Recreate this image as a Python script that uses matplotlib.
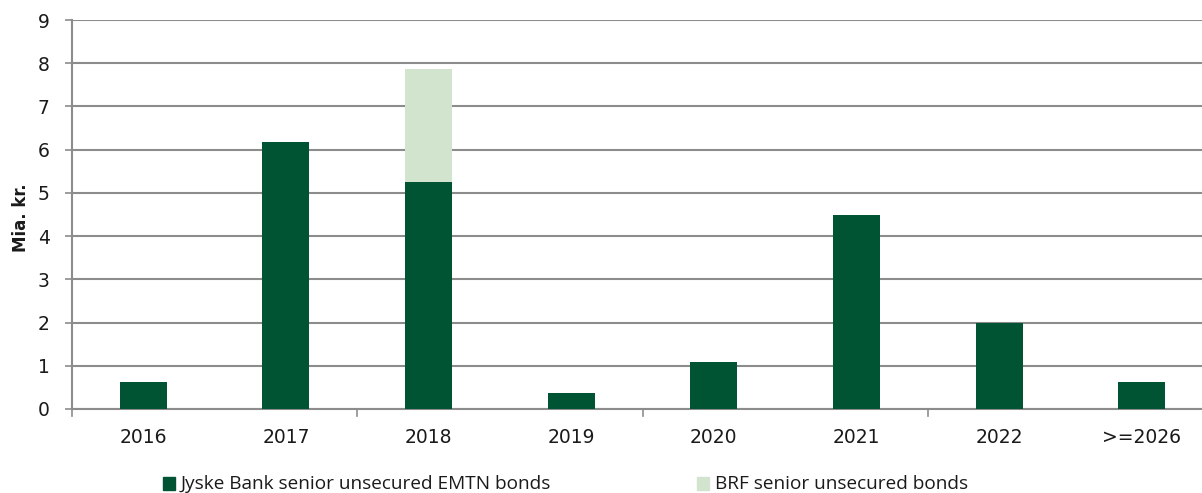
import matplotlib
matplotlib.use("Agg")
import matplotlib.pyplot as plt
from matplotlib.patches import Rectangle
import numpy as np

categories = ["2016", "2017", "2018", "2019", "2020", "2021", "2022", ">=2026"]
jyske = [0.63, 6.17, 5.26, 0.37, 1.08, 4.48, 1.98, 0.62]
brf = [0, 0, 2.60, 0, 0, 0, 0, 0]
series_names = ["Jyske Bank senior unsecured EMTN bonds", "BRF senior unsecured bonds"]
yticks = list(range(0, 10))

dark = "#005333"
light = "#D3E4CE"
grid_c = "#8C8C8C"
txt_c = "#1a1a1a"

fig = plt.figure(figsize=(12.02, 4.93), dpi=100)
ax = fig.add_axes([72/1202, 1-409/493, 1141/1202, 389/493])
x = np.arange(len(categories))
w = 0.33
ax.bar(x, jyske, width=w, color=dark, zorder=3)
ax.bar(x, brf, width=w, bottom=jyske, color=light, zorder=3)

ax.set_xlim(-0.5, len(categories) - 0.5)
ax.set_ylim(0, 9)
ax.set_yticks(yticks)
ax.set_yticklabels([str(v) for v in yticks], fontsize=13.5, color=txt_c, family="DejaVu Sans")
ax.yaxis.grid(True, color=grid_c, linewidth=1.5, zorder=0)
ax.tick_params(axis="y", length=5, width=1.2, color=grid_c, pad=11)
ax.set_xticks(x)
ax.set_xticklabels(categories, fontsize=13.5, color=txt_c, family="DejaVu Sans")
ax.tick_params(axis="x", length=0, pad=14)
# category boundary tick marks (every other boundary)
for b in np.arange(-0.5, len(categories), 2.0):
    ax.plot([b, b], [0, -0.17], color=grid_c, lw=1.2, clip_on=False, zorder=4)
for s in ["top", "right"]:
    ax.spines[s].set_visible(False)
ax.spines["left"].set_color(grid_c)
ax.spines["left"].set_linewidth(1.5)
ax.spines["bottom"].set_color(grid_c)
ax.spines["bottom"].set_linewidth(1.5)
ax.set_ylabel("Mia. kr.", fontsize=12, fontweight="bold", family="DejaVu Sans", color=txt_c)
ax.yaxis.set_label_coords(-42/1141, 1 - (218 - 20)/389)

# legend
leg_items = [(163/1202, series_names[0], dark), (697/1202, series_names[1], light)]
for lx, name, c in leg_items:
    fig.patches.append(Rectangle((lx, 1 - 490/493), 12/1202, 13/493,
                                 transform=fig.transFigure, color=c, figure=fig))
    fig.text(lx + 18/1202, 1 - 484/493, name, fontsize=13.7, va="center", ha="left",
             family="Open Sans", color=txt_c)

fig.savefig("out.png", dpi=100)
